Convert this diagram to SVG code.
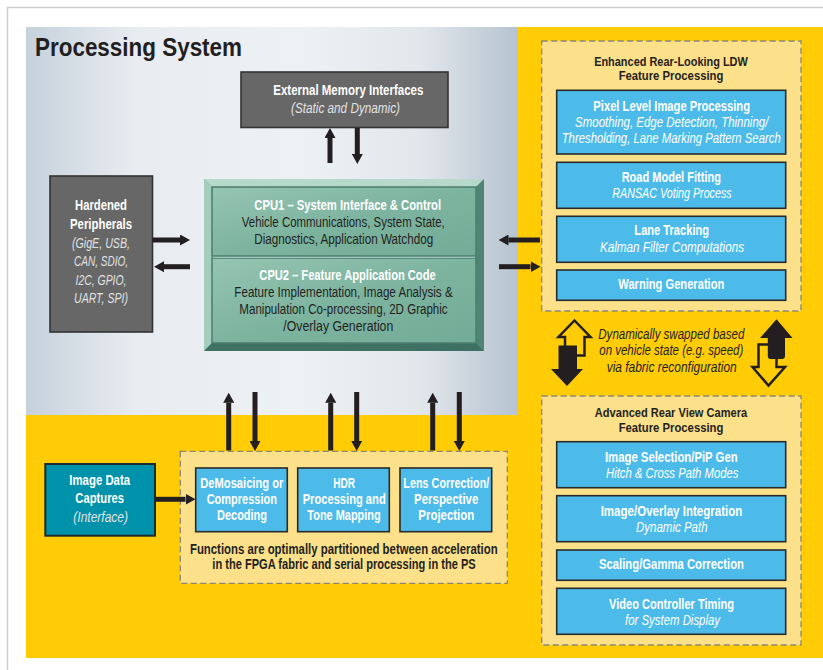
<svg xmlns="http://www.w3.org/2000/svg" width="823" height="670" viewBox="0 0 823 670">
<defs>
<style>
text{font-family:"Liberation Sans",Arial,sans-serif;text-anchor:middle}
.b{font-weight:bold}
.i{font-style:italic}
.w{fill:#ffffff}
.lt{fill:#e2e2e2}
.dk{fill:#231f20}
.f13{font-size:13px}
.f14{font-size:14px}
.f15{font-size:15px}
.gbox{fill:#676767;stroke:#333333;stroke-width:1.6}
.blue{fill:#4dbbea;stroke:#2a2a2a;stroke-width:1.6}
.dash{fill:#fde08a;stroke:#8a8778;stroke-width:1.3;stroke-dasharray:6 3.5}
.ar{stroke:#231f20;stroke-width:5;fill:none;marker-end:url(#ah)}
.sw{stroke:#231f20;stroke-width:2.5;fill:#ffcc05;stroke-linejoin:miter}
.swf{fill:#231f20}
</style>
<marker id="ah" markerUnits="userSpaceOnUse" markerWidth="10" markerHeight="11" refX="0" refY="5.5" orient="auto">
<path d="M0,0 L10,5.5 L0,11 z" fill="#231f20"/>
</marker>
<linearGradient id="psg" x1="0" y1="0" x2="1" y2="0">
<stop offset="0" stop-color="#c6d1dc"/>
<stop offset="0.22" stop-color="#e8ecf0"/>
<stop offset="0.55" stop-color="#eef1f4"/>
<stop offset="0.8" stop-color="#e2e7ec"/>
<stop offset="1" stop-color="#b6c3d0"/>
</linearGradient>
<linearGradient id="cpug" x1="0" y1="0" x2="1" y2="1">
<stop offset="0" stop-color="#96c5b3"/>
<stop offset="0.5" stop-color="#7db4a0"/>
<stop offset="1" stop-color="#72ab97"/>
</linearGradient>
</defs>

<g id="background">
<rect x="0" y="0" width="823" height="670" fill="#ffffff"/>
<path d="M7.5,670 L7.5,7.5 L823,7.5" fill="none" stroke="#cdcdcd" stroke-width="1.5"/>
<rect x="26" y="27" width="797" height="631" fill="#ffcc05"/>
<rect x="26" y="27" width="492" height="388" fill="url(#psg)"/>
<text x="35" y="56" style="text-anchor:start;font-size:26px" class="b dk" textLength="207" lengthAdjust="spacingAndGlyphs">Processing System</text>
</g>

<g id="memory">
<rect class="gbox" x="241" y="72" width="207" height="55.5"/>
<text class="b w f14" x="348.3" y="95" textLength="150" lengthAdjust="spacingAndGlyphs">External Memory Interfaces</text>
<text class="i lt f14" x="345.5" y="113" textLength="109" lengthAdjust="spacingAndGlyphs">(Static and Dynamic)</text>
</g>

<g id="peripherals">
<rect class="gbox" x="50" y="176" width="102.5" height="156"/>
<text class="b w f14" x="101" y="210" textLength="52" lengthAdjust="spacingAndGlyphs">Hardened</text>
<text class="b w f14" x="101" y="229" textLength="62" lengthAdjust="spacingAndGlyphs">Peripherals</text>
<text class="i lt f14" x="101" y="247.5" textLength="58" lengthAdjust="spacingAndGlyphs">(GigE, USB,</text>
<text class="i lt f14" x="101" y="266" textLength="54" lengthAdjust="spacingAndGlyphs">CAN, SDIO,</text>
<text class="i lt f14" x="101" y="284.5" textLength="51" lengthAdjust="spacingAndGlyphs">I2C, GPIO,</text>
<text class="i lt f14" x="101" y="303" textLength="54" lengthAdjust="spacingAndGlyphs">UART, SPI)</text>
</g>

<g id="cpu">
<rect x="204" y="179" width="280" height="172" fill="#6fa896"/>
<polygon points="204,179 484,179 476,187 212,187" fill="#b6d9cb"/>
<polygon points="204,179 212,187 212,343 204,351" fill="#a3cdbd"/>
<polygon points="484,179 484,351 476,343 476,187" fill="#4f8575"/>
<polygon points="204,351 484,351 476,343 212,343" fill="#3f7163"/>
<rect x="212" y="187" width="264" height="69" fill="url(#cpug)" stroke="#4b7d6f" stroke-width="1.5"/>
<rect x="212" y="258" width="264" height="85" fill="url(#cpug)" stroke="#4b7d6f" stroke-width="1.5"/>
<line x1="213" y1="257.3" x2="475" y2="257.3" stroke="#b3d6c8" stroke-width="1"/>
<text class="b w f14" x="347.7" y="210" textLength="186.7" lengthAdjust="spacingAndGlyphs">CPU1 – System Interface &amp; Control</text>
<text class="dk f14" x="343.3" y="227" textLength="203" lengthAdjust="spacingAndGlyphs">Vehicle Communications, System State,</text>
<text class="dk f14" x="343.7" y="244" textLength="179" lengthAdjust="spacingAndGlyphs">Diagnostics, Application Watchdog</text>
<text class="b w f14" x="347.5" y="280" textLength="176.3" lengthAdjust="spacingAndGlyphs">CPU2 – Feature Application Code</text>
<text class="dk f14" x="343.5" y="296.5" textLength="218.3" lengthAdjust="spacingAndGlyphs">Feature Implementation, Image Analysis &amp;</text>
<text class="dk f14" x="343.5" y="313.5" textLength="208.3" lengthAdjust="spacingAndGlyphs">Manipulation Co-processing, 2D Graphic</text>
<text class="dk f14" x="338.3" y="330.5" textLength="110" lengthAdjust="spacingAndGlyphs">/Overlay Generation</text>
</g>

<g id="ldw">
<rect class="dash" x="541.7" y="41" width="259.3" height="270"/>
<text class="b dk f13" x="671" y="66" textLength="153.7" lengthAdjust="spacingAndGlyphs">Enhanced Rear-Looking LDW</text>
<text class="b dk f13" x="671" y="80" textLength="104.7" lengthAdjust="spacingAndGlyphs">Feature Processing</text>
<g id="pixel">
<rect class="blue" x="556.7" y="90.3" width="229" height="63.7"/>
<text class="b w f14" x="671.7" y="111" textLength="156.7" lengthAdjust="spacingAndGlyphs">Pixel Level Image Processing</text>
<text class="i w f14" x="671.7" y="126.5" textLength="193.3" lengthAdjust="spacingAndGlyphs">Smoothing, Edge Detection, Thinning/</text>
<text class="i w f14" x="671.2" y="143" textLength="219" lengthAdjust="spacingAndGlyphs">Thresholding, Lane Marking Pattern Search</text>
</g>
<g id="road">
<rect class="blue" x="556.7" y="162.3" width="229" height="46"/>
<text class="b w f14" x="671.3" y="181.5" textLength="99.3" lengthAdjust="spacingAndGlyphs">Road Model Fitting</text>
<text class="i w f14" x="672" y="198.3" textLength="119.3" lengthAdjust="spacingAndGlyphs">RANSAC Voting Process</text>
</g>
<g id="lane">
<rect class="blue" x="556.7" y="216.3" width="229" height="46"/>
<text class="b w f14" x="671.7" y="235" textLength="74.7" lengthAdjust="spacingAndGlyphs">Lane Tracking</text>
<text class="i w f14" x="672" y="252" textLength="144" lengthAdjust="spacingAndGlyphs">Kalman Filter Computations</text>
</g>
<g id="warning">
<rect class="blue" x="556.7" y="270" width="229" height="30.3"/>
<text class="b w f14" x="671.3" y="289.3" textLength="106" lengthAdjust="spacingAndGlyphs">Warning Generation</text>
</g>
</g>

<g id="swap">
<polygon class="sw" points="574.5,320.5 590.5,337 584.5,337 584.5,355.5 565,355.5 565,337 558.5,337"/>
<polygon class="swf" points="558.5,345.5 577,345.5 577,369 583,369 567,386 551,369 558.5,369"/>
<polygon class="sw" points="758.5,344.5 776.5,344.5 776.5,367 785,367 768.5,385.5 752.5,367 758.5,367"/>
<path class="swf" d="M776.5,319.3 L792.5,338 L785,338 L785,356 Q785,359 782,359 L770.5,359 Q767.8,359 767.8,356 L767.8,338 L760,338 Z"/>
<text class="i dk f14" x="671.3" y="339.3" textLength="146" lengthAdjust="spacingAndGlyphs">Dynamically swapped based</text>
<text class="i dk f14" x="671.3" y="355.3" textLength="144" lengthAdjust="spacingAndGlyphs">on vehicle state (e.g. speed)</text>
<text class="i dk f14" x="671.7" y="371.5" textLength="130" lengthAdjust="spacingAndGlyphs">via fabric reconfiguration</text>
</g>

<g id="arvc">
<rect class="dash" x="541.7" y="396" width="259.3" height="249"/>
<text class="b dk f13" x="671" y="416.5" textLength="152.3" lengthAdjust="spacingAndGlyphs">Advanced Rear View Camera</text>
<text class="b dk f13" x="671" y="431.7" textLength="104.7" lengthAdjust="spacingAndGlyphs">Feature Processing</text>
<g id="imgsel">
<rect class="blue" x="556.7" y="441.7" width="229" height="46"/>
<text class="b w f14" x="671.3" y="461.5" textLength="132.7" lengthAdjust="spacingAndGlyphs">Image Selection/PiP Gen</text>
<text class="i w f14" x="672.2" y="477.7" textLength="132.3" lengthAdjust="spacingAndGlyphs">Hitch &amp; Cross Path Modes</text>
</g>
<g id="overlay">
<rect class="blue" x="556.7" y="495.7" width="229" height="46"/>
<text class="b w f14" x="671.5" y="516" textLength="141.7" lengthAdjust="spacingAndGlyphs">Image/Overlay Integration</text>
<text class="i w f14" x="671.8" y="531.7" textLength="71.7" lengthAdjust="spacingAndGlyphs">Dynamic Path</text>
</g>
<g id="scaling">
<rect class="blue" x="556.7" y="550" width="229" height="30.3"/>
<text class="b w f14" x="671.5" y="569.3" textLength="145" lengthAdjust="spacingAndGlyphs">Scaling/Gamma Correction</text>
</g>
<g id="video">
<rect class="blue" x="556.7" y="588.3" width="229" height="46"/>
<text class="b w f14" x="671.5" y="609" textLength="125" lengthAdjust="spacingAndGlyphs">Video Controller Timing</text>
<text class="i w f14" x="672.5" y="625" textLength="95" lengthAdjust="spacingAndGlyphs">for System Display</text>
</g>
</g>

<g id="image-data">
<rect x="45.3" y="464" width="109.7" height="71.7" fill="#0092aa" stroke="#1b2b30" stroke-width="2"/>
<text class="b w f15" x="99.7" y="485" textLength="60.7" lengthAdjust="spacingAndGlyphs">Image Data</text>
<text class="b w f15" x="99.7" y="503.3" textLength="48.7" lengthAdjust="spacingAndGlyphs">Captures</text>
<text class="i lt f15" x="100.7" y="521.5" textLength="54.7" lengthAdjust="spacingAndGlyphs">(Interface)</text>
</g>

<g id="fabric">
<rect class="dash" x="180.3" y="451.3" width="327" height="132"/>
<g id="demosaic">
<rect class="blue" x="195.7" y="468" width="91.6" height="63.7"/>
<text class="b w f15" x="241.8" y="488" textLength="83" lengthAdjust="spacingAndGlyphs">DeMosaicing or</text>
<text class="b w f15" x="241.8" y="504" textLength="70.3" lengthAdjust="spacingAndGlyphs">Compression</text>
<text class="b w f15" x="242" y="519.5" textLength="50" lengthAdjust="spacingAndGlyphs">Decoding</text>
</g>
<g id="hdr">
<rect class="blue" x="297.7" y="468" width="91.6" height="63.7"/>
<text class="b w f15" x="344.2" y="488" textLength="21.7" lengthAdjust="spacingAndGlyphs">HDR</text>
<text class="b w f15" x="344.2" y="504" textLength="83" lengthAdjust="spacingAndGlyphs">Processing and</text>
<text class="b w f15" x="344" y="519.5" textLength="73.3" lengthAdjust="spacingAndGlyphs">Tone Mapping</text>
</g>
<g id="lens">
<rect class="blue" x="400" y="468" width="91.7" height="63.7"/>
<text class="b w f15" x="446.3" y="488" textLength="86" lengthAdjust="spacingAndGlyphs">Lens Correction/</text>
<text class="b w f15" x="446.2" y="504" textLength="64.3" lengthAdjust="spacingAndGlyphs">Perspective</text>
<text class="b w f15" x="446.3" y="519.5" textLength="56" lengthAdjust="spacingAndGlyphs">Projection</text>
</g>
<text class="b dk f14" x="343.8" y="554" textLength="307.7" lengthAdjust="spacingAndGlyphs">Functions are optimally partitioned between acceleration</text>
<text class="b dk f14" x="344" y="569" textLength="263.3" lengthAdjust="spacingAndGlyphs">in the FPGA fabric and serial processing in the PS</text>
</g>

<g id="connectors">
<line class="ar" x1="330" y1="163" x2="330" y2="138"/>
<line class="ar" x1="357.3" y1="128" x2="357.3" y2="154"/>
<line class="ar" x1="152.5" y1="240" x2="180" y2="240"/>
<line class="ar" x1="190" y1="266.7" x2="164" y2="266.7"/>
<line class="ar" x1="540" y1="240" x2="508.5" y2="240"/>
<line class="ar" x1="499" y1="266.7" x2="530.5" y2="266.7"/>
<line class="ar" x1="228.7" y1="450.5" x2="228.7" y2="402.7"/>
<line class="ar" x1="255" y1="392" x2="255" y2="441"/>
<line class="ar" x1="330.7" y1="450.5" x2="330.7" y2="402.7"/>
<line class="ar" x1="356.7" y1="392" x2="356.7" y2="441"/>
<line class="ar" x1="432.7" y1="450.5" x2="432.7" y2="402.7"/>
<line class="ar" x1="459.3" y1="392" x2="459.3" y2="441"/>
<line class="ar" x1="155" y1="499.3" x2="185.5" y2="499.3"/>
</g>
</svg>
